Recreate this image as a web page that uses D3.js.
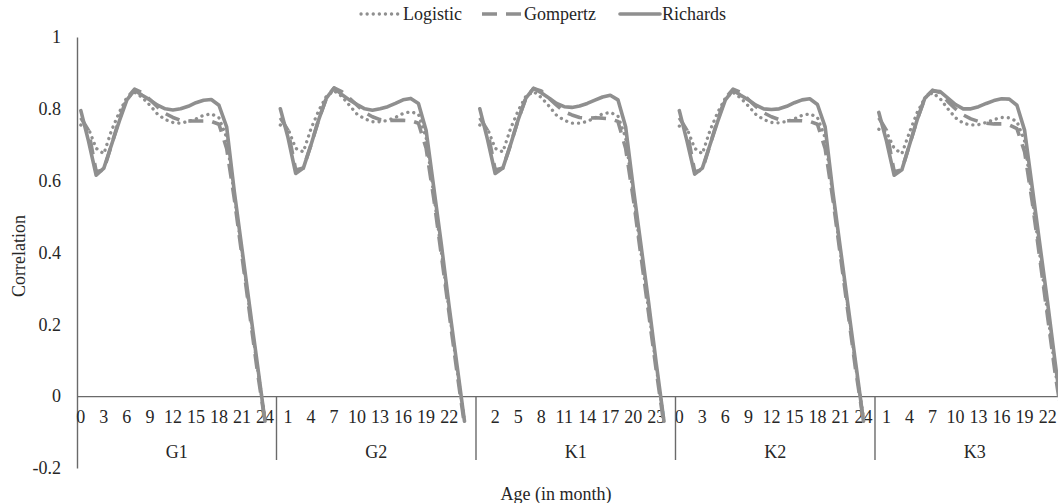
<!DOCTYPE html>
<html>
<head>
<meta charset="utf-8">
<script src="https://cdn.jsdelivr.net/npm/d3@7"></script>
<style>
  html, body { margin: 0; padding: 0; background: #fff; }
  svg { display: block; }
  text { font-family: "Liberation Serif", "Times New Roman", serif; fill: #262626; }
</style>
</head>
<body>
<div id="chart"></div>
<script>
// ---------------- data ----------------
const groups = ["G1", "G2", "K1", "K2", "K3"];
// category labels inside every group (last slot is an empty row)
const ageLabels = ["0","1","2","3","4","5","6","7","8","9","10","11","12","13","14","15","16","17","18","19","20","21","22","23","24",""];
const seriesNames = ["Logistic", "Gompertz", "Richards"];
const yTicks = [-0.2, 0, 0.2, 0.4, 0.6, 0.8, 1];

const logisticG1 = [0.755,0.745,0.69,0.675,0.74,0.79,0.832,0.846,0.832,0.81,0.785,0.77,0.762,0.76,0.765,0.772,0.782,0.786,0.775,0.72,0.56,0.40,0.24,0.08,-0.06];
const gompertzG1 = [0.775,0.74,0.625,0.63,0.70,0.77,0.83,0.855,0.845,0.826,0.805,0.787,0.776,0.768,0.766,0.766,0.766,0.765,0.757,0.69,0.55,0.39,0.23,0.07,-0.07];
const richardsG1 = [0.795,0.71,0.615,0.635,0.70,0.765,0.825,0.852,0.838,0.825,0.81,0.80,0.797,0.80,0.807,0.817,0.824,0.826,0.81,0.75,0.57,0.41,0.25,0.09,-0.07];

const logisticG2 = [0.755,0.745,0.69,0.68,0.745,0.795,0.835,0.85,0.835,0.81,0.785,0.772,0.764,0.764,0.768,0.776,0.787,0.792,0.785,0.72,0.56,0.40,0.24,0.08,-0.07];
const gompertzG2 = [0.775,0.74,0.63,0.635,0.70,0.77,0.83,0.858,0.848,0.83,0.81,0.79,0.778,0.77,0.768,0.768,0.768,0.767,0.76,0.69,0.55,0.39,0.23,0.07,-0.08];
const richardsG2 = [0.80,0.72,0.62,0.635,0.70,0.77,0.83,0.858,0.84,0.825,0.812,0.80,0.796,0.80,0.806,0.815,0.825,0.829,0.815,0.74,0.58,0.42,0.25,0.09,-0.07];

const logisticK1 = [0.755,0.745,0.69,0.68,0.745,0.795,0.835,0.848,0.832,0.808,0.782,0.768,0.76,0.76,0.765,0.775,0.786,0.79,0.78,0.72,0.56,0.40,0.24,0.08,-0.07];
const gompertzK1 = [0.775,0.74,0.63,0.635,0.70,0.77,0.83,0.857,0.85,0.83,0.81,0.792,0.783,0.776,0.774,0.775,0.774,0.772,0.765,0.69,0.55,0.39,0.23,0.07,-0.08];
const richardsK1 = [0.80,0.715,0.62,0.635,0.70,0.77,0.83,0.857,0.845,0.83,0.815,0.806,0.804,0.808,0.815,0.824,0.833,0.838,0.825,0.75,0.58,0.42,0.26,0.09,-0.07];

const logisticK2 = [0.752,0.745,0.69,0.675,0.74,0.79,0.83,0.846,0.83,0.808,0.784,0.77,0.762,0.761,0.765,0.772,0.782,0.786,0.776,0.72,0.56,0.40,0.24,0.08,-0.06];
const gompertzK2 = [0.775,0.74,0.625,0.63,0.70,0.77,0.83,0.855,0.846,0.826,0.806,0.789,0.778,0.77,0.767,0.767,0.767,0.765,0.757,0.69,0.55,0.39,0.23,0.07,-0.07];
const richardsK2 = [0.795,0.71,0.618,0.635,0.70,0.765,0.825,0.852,0.838,0.825,0.81,0.80,0.798,0.80,0.807,0.817,0.825,0.828,0.812,0.75,0.57,0.41,0.25,0.09,-0.07];

const logisticK3 = [0.743,0.735,0.69,0.675,0.735,0.79,0.83,0.845,0.828,0.80,0.775,0.76,0.755,0.756,0.762,0.77,0.776,0.775,0.765,0.71,0.55,0.39,0.23,0.07,-0.08];
const gompertzK3 = [0.775,0.74,0.625,0.63,0.70,0.77,0.83,0.852,0.845,0.82,0.80,0.783,0.772,0.765,0.76,0.758,0.758,0.755,0.745,0.68,0.54,0.38,0.22,0.06,-0.08];
const richardsK3 = [0.79,0.71,0.615,0.63,0.70,0.77,0.83,0.85,0.848,0.83,0.812,0.80,0.80,0.806,0.815,0.823,0.828,0.827,0.81,0.74,0.58,0.42,0.26,0.09,-0.07];

const seriesByGroup = {
  G1: [logisticG1, gompertzG1, richardsG1],
  G2: [logisticG2, gompertzG2, richardsG2],
  K1: [logisticK1, gompertzK1, richardsK1],
  K2: [logisticK2, gompertzK2, richardsK2],
  K3: [logisticK3, gompertzK3, richardsK3]
};

// ---------------- layout ----------------
const W = 1058, H = 503;
const plotLeft = 77, slot = 7.673;
const nPer = ageLabels.length;
const nTotal = groups.length * nPer;
const yTop = 37, yBottom = 468;
const FS = "18px";

const svg = d3.select("#chart").append("svg").attr("width", W).attr("height", H);

const globalIdx = d3.range(nTotal);
const x = d3.scaleBand().domain(globalIdx).range([plotLeft, plotLeft + nTotal * slot]).padding(0);
const xc = i => x(i) + x.bandwidth() / 2;
const y = d3.scaleLinear().domain([-0.2, 1]).range([yBottom, yTop]);

const lineColor = "#8f8f8f";
const axisColor = "#6a6a6a";
const styles = [
  { dash: "0.1,6", cap: "round", width: 3.3 },
  { dash: "15,9", cap: "butt", width: 3.6 },
  { dash: null, cap: "round", width: 3.6 }
];

// y axis (labels only, no ticks)
const yAxis = d3.axisLeft(y).tickValues(yTicks).tickSize(0).tickPadding(16)
  .tickFormat(d => String(+d.toFixed(1)));
const gy = svg.append("g").attr("transform", `translate(${plotLeft},0)`).call(yAxis);
gy.select(".domain").attr("stroke", axisColor).attr("stroke-width", 1.4);
gy.selectAll("text").style("font-size", FS).style("font-family", "Liberation Serif").attr("fill", "#262626");

// x axis at zero with multi-level labels
const y0 = y(0);
const xAxis = d3.axisBottom(x).tickSize(0).tickPadding(14)
  .tickValues(globalIdx.filter(i => i % 3 === 0))
  .tickFormat(i => ageLabels[i % nPer]);
const gx = svg.append("g").attr("transform", `translate(0,${y0})`).call(xAxis);
gx.select(".domain").attr("stroke", axisColor).attr("stroke-width", 1.4);
gx.selectAll("text").style("font-size", FS).style("font-family", "Liberation Serif").attr("fill", "#262626");

// group separators and group labels
groups.forEach((g, gi) => {
  const start = gi * nPer;
  const xs = x(start);
  const xe = x(start) + nPer * slot;
  svg.append("line").attr("x1", xe).attr("x2", xe).attr("y1", y0).attr("y2", 460)
    .attr("stroke", axisColor).attr("stroke-width", 1.4);
  svg.append("text").attr("x", (xs + xe) / 2).attr("y", 458).attr("text-anchor", "middle")
    .style("font-size", FS).text(g);
});

// series lines
const line = d3.line().x(d => xc(d.i)).y(d => y(d.v));
groups.forEach((g, gi) => {
  seriesByGroup[g].forEach((vals, si) => {
    const pts = vals.map((v, k) => ({ i: gi * nPer + k, v }));
    const st = styles[si];
    svg.append("path").datum(pts).attr("d", line)
      .attr("fill", "none").attr("stroke", lineColor)
      .attr("stroke-width", st.width).attr("stroke-linecap", st.cap)
      .attr("stroke-linejoin", "round")
      .attr("stroke-dasharray", st.dash);
  });
});

// axis titles
svg.append("text").attr("x", 556).attr("y", 500).attr("text-anchor", "middle")
  .style("font-size", FS).text("Age (in month)");
svg.append("text").attr("transform", "translate(25,256) rotate(-90)").attr("text-anchor", "middle")
  .style("font-size", FS).text("Correlation");

// legend
const legendX = [361, 482, 620];
seriesNames.forEach((name, si) => {
  const st = styles[si];
  const lx = legendX[si];
  svg.append("line").attr("x1", lx).attr("x2", lx + 40).attr("y1", 14).attr("y2", 14)
    .attr("stroke", lineColor).attr("stroke-width", st.width)
    .attr("stroke-linecap", st.cap).attr("stroke-dasharray", st.dash);
  svg.append("text").attr("x", lx + 42).attr("y", 20).style("font-size", FS).text(name);
});
</script>
</body>
</html>
